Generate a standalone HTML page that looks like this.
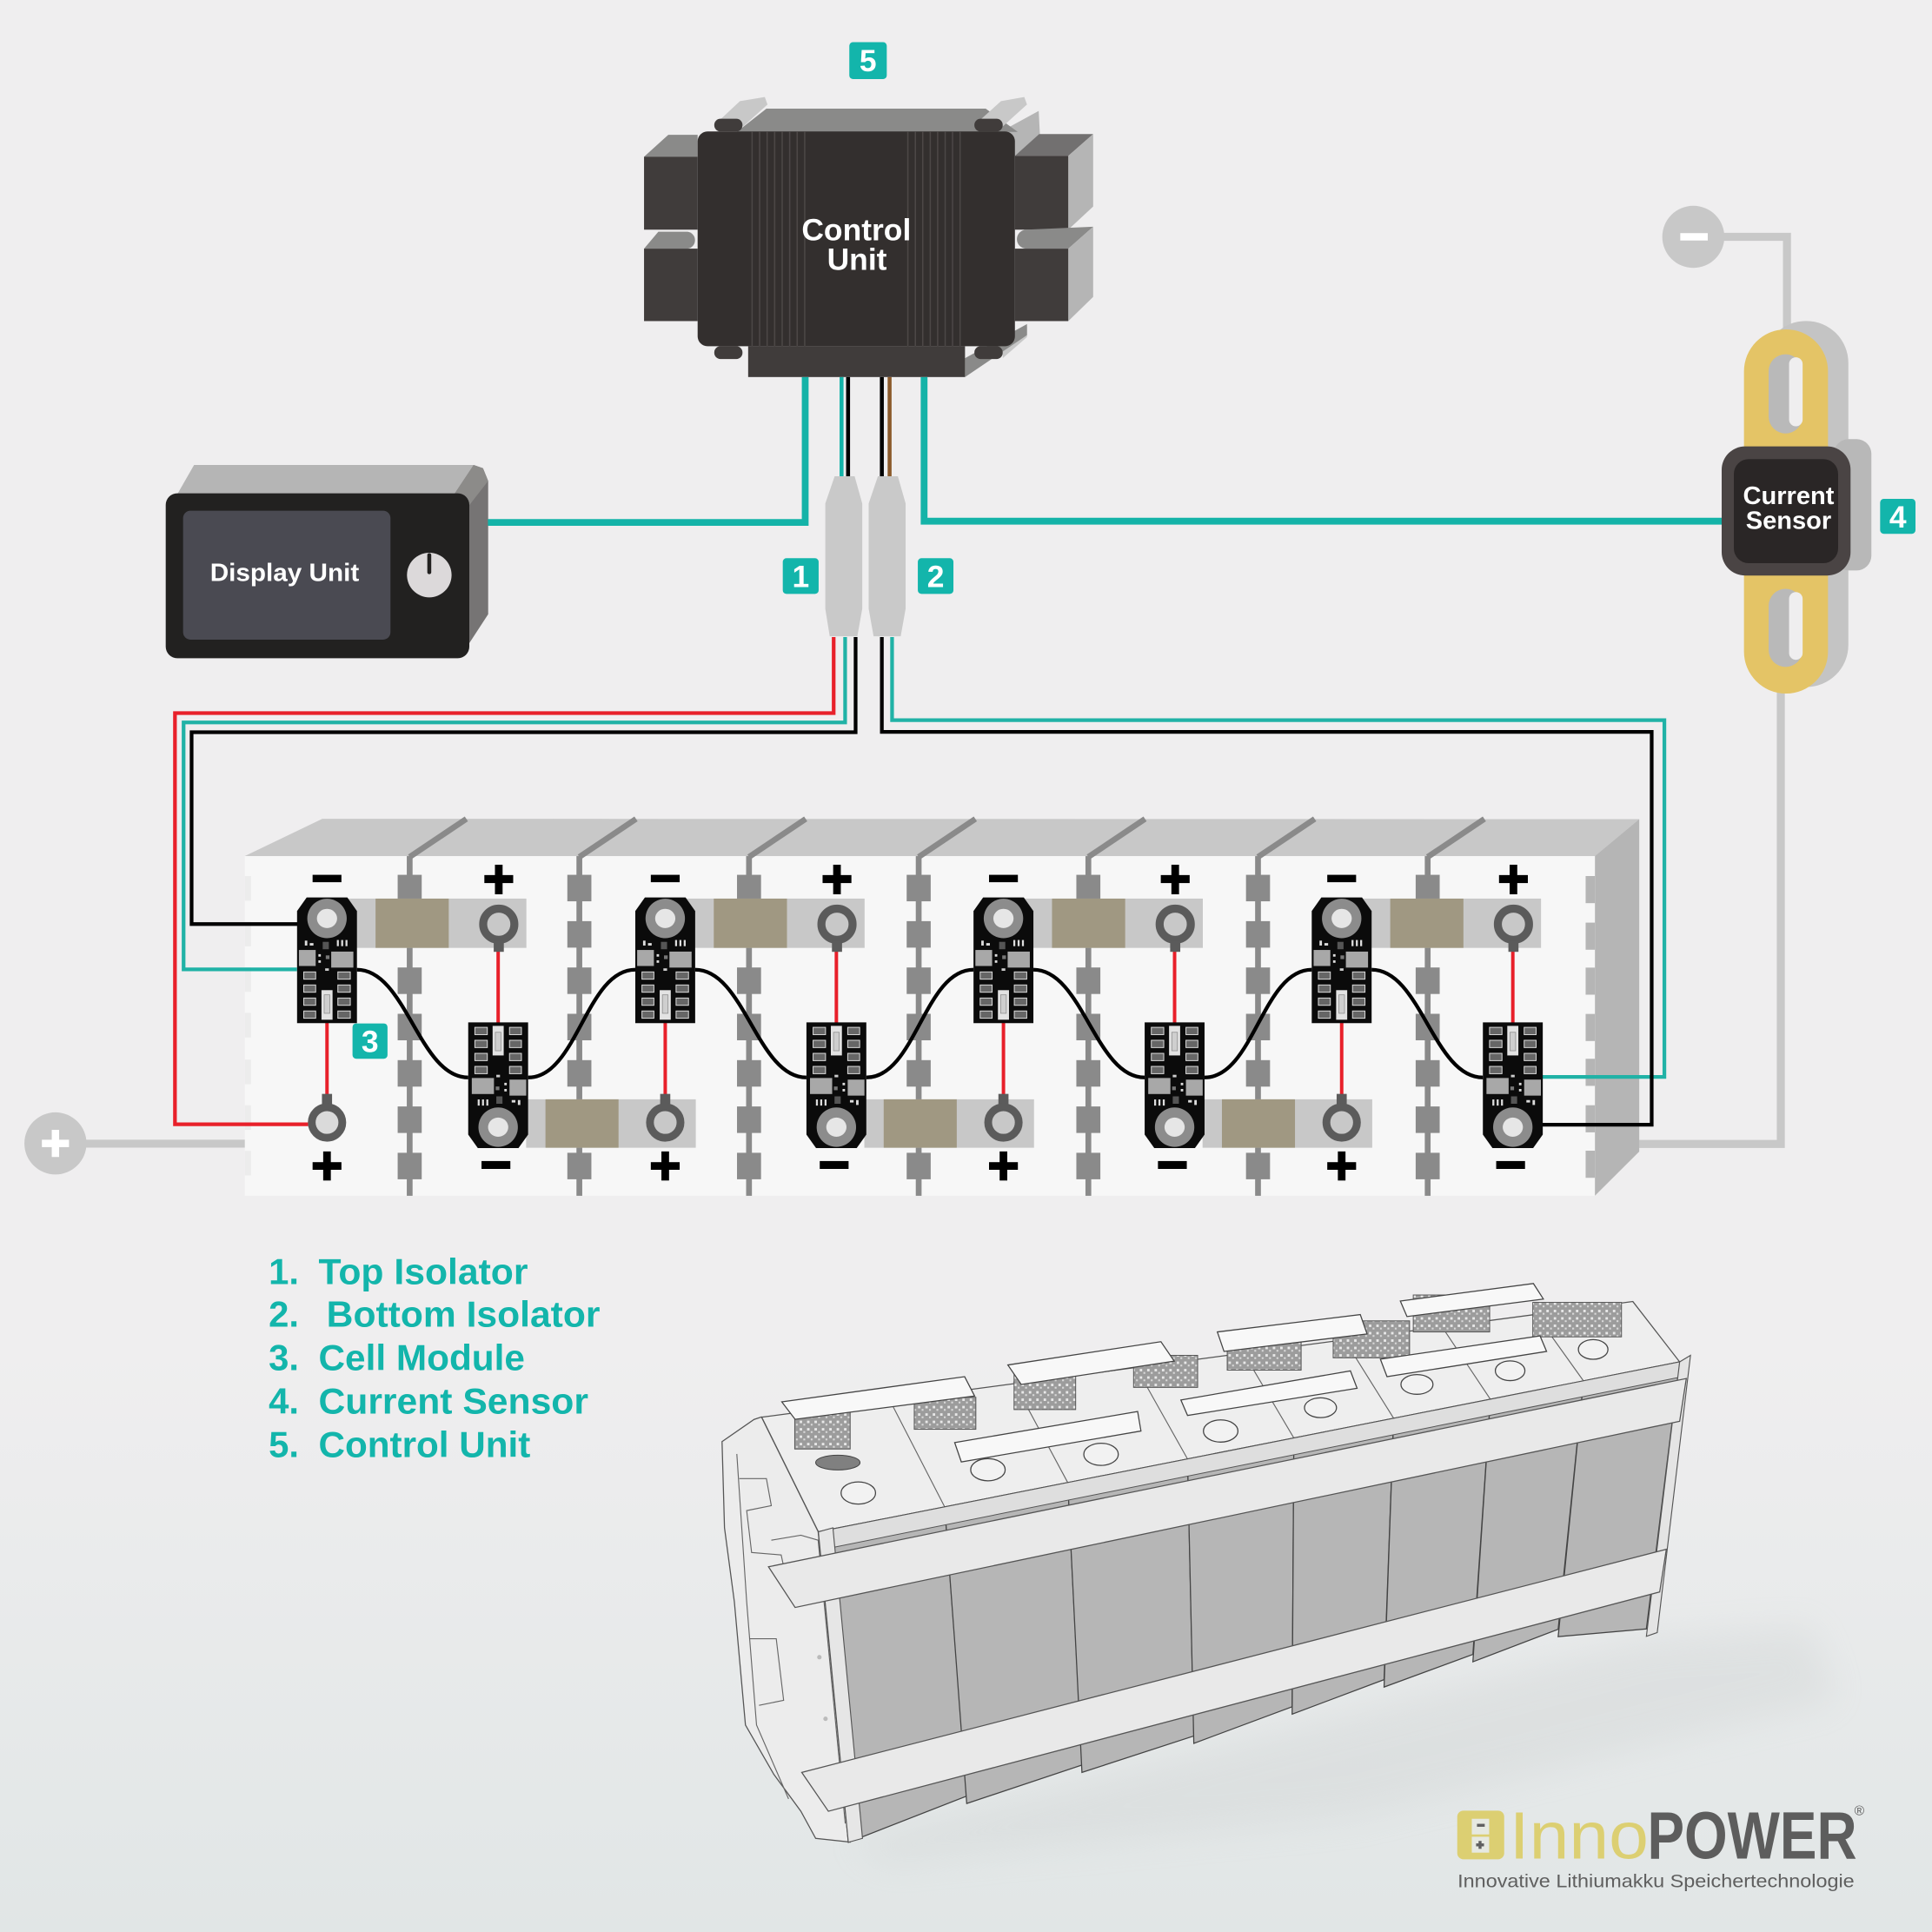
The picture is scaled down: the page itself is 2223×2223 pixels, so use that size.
<!DOCTYPE html>
<html><head><meta charset="utf-8"><style>html,body{margin:0;padding:0;background:#efeeef;}svg{display:block}</style></head>
<body>
<svg xmlns="http://www.w3.org/2000/svg" xmlns:xlink="http://www.w3.org/1999/xlink" width="2223" height="2223" viewBox="0 0 1568 1568" font-family="'Liberation Sans', Arial, sans-serif">
<defs>
<linearGradient id="bg" x1="0" y1="0" x2="0" y2="1">
<stop offset="0" stop-color="#efeeef"/><stop offset="0.7" stop-color="#efeeef"/><stop offset="1" stop-color="#e1e6e6"/>
</linearGradient>
<filter id="blur" x="-20%" y="-20%" width="140%" height="140%"><feGaussianBlur stdDeviation="14"/></filter>
<pattern id="hatch" width="6" height="6" patternUnits="userSpaceOnUse">
<rect width="6" height="6" fill="#9c9c9c"/><rect x="1" y="1" width="2" height="2" fill="#e8e8e8"/><rect x="4" y="3.5" width="1.5" height="1.5" fill="#d8d8d8"/>
</pattern>
<g id="mod">
<path d="M-16.5,0 H16.5 L24.3,11 V102 H-24.3 V11 Z" fill="#0b0b0b"/>
<circle cx="0" cy="17" r="16" fill="#8c8c8c"/>
<ellipse cx="0" cy="17" rx="8.2" ry="7.8" fill="#e6e6e6"/>
<rect x="-22.8" y="42.6" width="13.6" height="13" fill="#a8a8a8"/>
<rect x="3.4" y="43.9" width="18" height="13" fill="#a8a8a8"/>
<rect x="-3.5" y="36" width="5" height="6" fill="#555"/>
<rect x="-18" y="35" width="2" height="4" fill="#ddd"/><rect x="-14" y="37" width="3" height="2" fill="#ddd"/>
<rect x="8" y="34.5" width="1.6" height="5" fill="#ddd"/><rect x="11.5" y="34.5" width="1.6" height="5" fill="#ddd"/><rect x="15" y="34.5" width="1.6" height="5" fill="#ddd"/>
<rect x="-7" y="46" width="2" height="2" fill="#ddd"/><rect x="-7" y="51" width="2" height="2" fill="#ddd"/><rect x="-1" y="47" width="3" height="3" fill="#777"/>
<rect x="-1.5" y="57.5" width="3" height="2" fill="#ccc"/>
<g fill="#666" stroke="#dcdcdc" stroke-width="0.7">
<rect x="-18.9" y="60.4" width="9.7" height="5.9"/><rect x="8.8" y="60.4" width="10.1" height="5.9"/>
<rect x="-18.9" y="71" width="9.7" height="5.9"/><rect x="8.8" y="71" width="10.1" height="5.9"/>
<rect x="-18.9" y="81.6" width="9.7" height="5.9"/><rect x="8.8" y="81.6" width="10.1" height="5.9"/>
<rect x="-18.9" y="92.1" width="9.7" height="5.9"/><rect x="8.8" y="92.1" width="10.1" height="5.9"/>
</g>
<rect x="-4.5" y="75.2" width="9" height="24" fill="#e3e3e3"/>
<rect x="-2.3" y="79" width="4.6" height="15" fill="#cfcfcf" stroke="#888" stroke-width="0.5"/>
</g>
</defs>

<rect x="0" y="0" width="1568" height="1568" fill="url(#bg)"/>

<!-- ============ CONTROL UNIT ============ -->
<polygon points="522.7,127.2 542.4,109.4 566.2,109.4 566.2,127.2" fill="#8a8a89"/>
<rect x="522.7" y="127.2" width="43.5" height="59.2" fill="#403c3b"/>
<path d="M522.7,201.8 L534.3,188.1 H558 A6.9,6.9 0 0 1 558,201.8 Z" fill="#8a8a89"/>
<rect x="522.7" y="201.8" width="43.5" height="58.8" fill="#403c3b"/>
<polygon points="813.8,106 843,90 844,109.4 823.7,126.5" fill="#b5b5b5"/>
<polygon points="823.7,126.5 843.4,108.8 887.2,108.8 867,126.5" fill="#727070"/>
<polygon points="867,126.5 887.2,108.8 887.2,167.6 867,186.4" fill="#b5b5b5"/>
<rect x="823.7" y="126.5" width="43.3" height="59.9" fill="#403c3b"/>
<path d="M833,186.4 L887.2,184 L867,201.8 H833 A7.7,7.7 0 0 1 833,186.4 Z" fill="#8a8a89"/>
<polygon points="867,201.8 887.2,184 887.2,241 867,260.6" fill="#b5b5b5"/>
<rect x="823.7" y="201.8" width="43.3" height="58.8" fill="#403c3b"/>
<polygon points="598,107 622,88.2 800,88.2 826,107" fill="#8a8a89"/>
<polygon points="579.7,101.6 600.5,82.1 620.7,78.7 622.9,84.8 603.2,102.6" fill="#c8c8c8"/>
<polygon points="790.8,101.6 812.4,82.1 831.3,78.7 833.5,84.8 813.8,102.6" fill="#c8c8c8"/>
<polygon points="813.8,284 833.5,265 833.5,273.6 813.8,290.7" fill="#c8c8c8"/>
<polygon points="783.2,290.7 833.5,263 833.5,272 783.2,306" fill="#8a8a89"/>
<rect x="566.2" y="106.7" width="257.5" height="174.3" rx="8" fill="#332f2e"/>
<g stroke="#4c4746" stroke-width="1.1">
<line x1="610.4" y1="107" x2="610.4" y2="281"/><line x1="616.5" y1="107" x2="616.5" y2="281"/><line x1="622.6" y1="107" x2="622.6" y2="281"/><line x1="628.7" y1="107" x2="628.7" y2="281"/><line x1="634.8" y1="107" x2="634.8" y2="281"/><line x1="640.9" y1="107" x2="640.9" y2="281"/><line x1="647" y1="107" x2="647" y2="281"/><line x1="653.1" y1="107" x2="653.1" y2="281"/>
<line x1="736.8" y1="107" x2="736.8" y2="281"/><line x1="742.9" y1="107" x2="742.9" y2="281"/><line x1="748.9" y1="107" x2="748.9" y2="281"/><line x1="755" y1="107" x2="755" y2="281"/><line x1="761" y1="107" x2="761" y2="281"/><line x1="767.1" y1="107" x2="767.1" y2="281"/><line x1="773.1" y1="107" x2="773.1" y2="281"/><line x1="779.2" y1="107" x2="779.2" y2="281"/>
</g>
<rect x="579.7" y="96.4" width="22.9" height="10.3" rx="5" fill="#403c3b"/>
<rect x="790.8" y="96.4" width="23" height="10.3" rx="5" fill="#403c3b"/>
<rect x="607.2" y="281" width="176" height="25" fill="#403c3b"/>
<rect x="579.7" y="281" width="22.9" height="10.4" rx="5" fill="#403c3b"/>
<rect x="790.8" y="281" width="23" height="10.4" rx="5" fill="#403c3b"/>
<text x="695" y="195" font-size="25" font-weight="bold" fill="#fff" text-anchor="middle">Control</text>
<text x="695.5" y="219" font-size="25" font-weight="bold" fill="#fff" text-anchor="middle">Unit</text>

<rect x="689.3" y="34.2" width="30.4" height="30" rx="3" fill="#13b5ab"/>
<text x="704.5" y="58" font-size="25" font-weight="bold" fill="#fff" text-anchor="middle">5</text>

<!-- ============ DISPLAY UNIT ============ -->
<polygon points="143.4,402 157.5,377.4 384.4,377.4 369.1,400.4" fill="#b5b5b5"/>
<polygon points="369.1,400.4 384.4,377.4 392,380 396.2,390.3 396.2,498.5 380.9,522 380.9,410" fill="#767474"/>
<polygon points="369.1,400.4 384.4,377.4 392,380 396.2,390.3 380.9,410" fill="#8c8b89"/>
<rect x="134.5" y="400.4" width="246.4" height="133.8" rx="9.4" fill="#222120"/>
<rect x="148.6" y="414.5" width="168.3" height="104.6" rx="6" fill="#4a4a52"/>
<text x="170.5" y="471.4" font-size="20.5" font-weight="bold" fill="#fff" textLength="121" lengthAdjust="spacingAndGlyphs">Display Unit</text>
<circle cx="348.4" cy="466.7" r="18.1" fill="#dcd9da"/>
<rect x="346.8" y="449" width="3.2" height="17" rx="1.5" fill="#222120"/>

<!-- ============ WIRES TOP ============ -->
<path d="M653.5,306 V424 H396" fill="none" stroke="#14b3a8" stroke-width="5.5"/>
<path d="M750,306 V423 H1398" fill="none" stroke="#14b3a8" stroke-width="5.5"/>
<line x1="683" y1="306" x2="683" y2="388" stroke="#14b3a8" stroke-width="3.2"/>
<line x1="688.3" y1="306" x2="688.3" y2="388" stroke="#000" stroke-width="3.2"/>
<line x1="715.7" y1="306" x2="715.7" y2="388" stroke="#000" stroke-width="3.2"/>
<line x1="722" y1="306" x2="722" y2="388" stroke="#8b5a2b" stroke-width="3.2"/>

<polygon points="677.4,386.5 693.6,386.5 699.8,408.7 699.8,494 695.8,516.4 673.4,516.4 669.8,494 669.8,408.7" fill="#c9c9c9"/>
<polygon points="712.5,386.5 728.7,386.5 735,408.7 735,494 731,516.4 709,516.4 705,494 705,408.7" fill="#c9c9c9"/>
<rect x="635.3" y="453" width="29.1" height="29" rx="3" fill="#13b5ab"/>
<text x="649.9" y="476.5" font-size="25" font-weight="bold" fill="#fff" text-anchor="middle">1</text>
<rect x="744.9" y="453" width="28.9" height="29" rx="3" fill="#13b5ab"/>
<text x="759.4" y="476.5" font-size="25" font-weight="bold" fill="#fff" text-anchor="middle">2</text>

<!-- ============ CURRENT SENSOR ============ -->
<path d="M1399,192.2 H1450.3 V270" fill="none" stroke="#c8c8c8" stroke-width="6.5"/>
<circle cx="1374.3" cy="192.2" r="25.2" fill="#c8c8c8"/>
<rect x="1363.7" y="189.2" width="22.3" height="6" fill="#fff"/>
<path d="M1445.3,555 V928.4 H1314" fill="none" stroke="#c8c8c8" stroke-width="6.5"/>
<rect x="1431.5" y="260.5" width="68.6" height="297" rx="34" fill="#c4c4c4"/>
<rect x="1488.3" y="356.4" width="30.5" height="106.6" rx="12" fill="#b8b8b8"/>
<rect x="1415.4" y="267.3" width="68.2" height="295.6" rx="34.1" fill="#e4c466"/>
<rect x="1435.4" y="287.5" width="27.5" height="64.3" rx="13.75" fill="#b9b9b9"/>
<rect x="1452" y="290" width="11" height="56" rx="5.5" fill="#efeeef"/>
<rect x="1435.4" y="477.9" width="27.5" height="63.4" rx="13.75" fill="#b9b9b9"/>
<rect x="1452" y="480.5" width="11" height="55" rx="5.5" fill="#efeeef"/>
<rect x="1397.3" y="362.3" width="104.6" height="104.8" rx="19" fill="#4a4444"/>
<rect x="1407.2" y="372.6" width="84.6" height="84.5" rx="12" fill="#2a2626"/>
<text x="1451.6" y="409" font-size="20.5" font-weight="bold" fill="#fff" text-anchor="middle">Current</text>
<text x="1451.6" y="429.3" font-size="20.5" font-weight="bold" fill="#fff" text-anchor="middle">Sensor</text>
<rect x="1525.9" y="404.9" width="28.7" height="28.4" rx="3" fill="#13b5ab"/>
<text x="1540.3" y="428" font-size="25" font-weight="bold" fill="#fff" text-anchor="middle">4</text>

<line x1="68" y1="928.2" x2="205" y2="928.2" stroke="#c8c8c8" stroke-width="6.5"/>
<circle cx="45" cy="928" r="25.2" fill="#c8c8c8"/>
<rect x="34" y="925" width="22" height="6" fill="#fff"/>
<rect x="42" y="917" width="6" height="22" fill="#fff"/>

<!-- ============ SCHEMATIC BATTERY ============ -->
<polygon points="198.7,694.8 261.6,664.5 1330.4,664.8 1294.4,694.8" fill="#c8c8c8"/>
<polygon points="1294.4,694.8 1330.4,664.8 1330.4,934.6 1294.4,970.5" fill="#b5b5b5"/>
<rect x="198.7" y="694.8" width="1095.7" height="275.7" fill="#f7f7f7"/>
<g fill="#b5b5b5">
<rect x="1286.9" y="711" width="7.5" height="22"/><rect x="1286.9" y="748.8" width="7.5" height="22"/><rect x="1286.9" y="785.3" width="7.5" height="22"/><rect x="1286.9" y="822.9" width="7.5" height="22"/><rect x="1286.9" y="859.3" width="7.5" height="22"/><rect x="1286.9" y="897" width="7.5" height="22"/><rect x="1286.9" y="933.9" width="7.5" height="22"/>
</g>
<g fill="#ececec">
<rect x="198.7" y="711" width="5" height="20"/><rect x="198.7" y="748" width="5" height="20"/><rect x="198.7" y="785" width="5" height="20"/><rect x="198.7" y="822" width="5" height="20"/><rect x="198.7" y="860" width="5" height="20"/><rect x="198.7" y="897" width="5" height="20"/><rect x="198.7" y="934" width="5" height="20"/>
</g>
<g id="sep">
<line x1="332.5" y1="695.5" x2="378.5" y2="664.6" stroke="#8a8a8a" stroke-width="4.7"/>
<rect x="330.15" y="694.8" width="4.7" height="275.7" fill="#8a8a8a"/>
<g fill="#8a8a8a">
<rect x="322.75" y="710" width="19.5" height="21.5"/><rect x="322.75" y="747.6" width="19.5" height="21.5"/><rect x="322.75" y="785.2" width="19.5" height="21.5"/><rect x="322.75" y="822.8" width="19.5" height="21.5"/><rect x="322.75" y="860.4" width="19.5" height="21.5"/><rect x="322.75" y="898" width="19.5" height="21.5"/><rect x="322.75" y="935.6" width="19.5" height="21.5"/>
</g>
</g>
<use xlink:href="#sep" href="#sep" transform="translate(137.7,0)"/>
<use xlink:href="#sep" href="#sep" transform="translate(275.4,0)"/>
<use xlink:href="#sep" href="#sep" transform="translate(413.1,0)"/>
<use xlink:href="#sep" href="#sep" transform="translate(550.8,0)"/>
<use xlink:href="#sep" href="#sep" transform="translate(688.5,0)"/>
<use xlink:href="#sep" href="#sep" transform="translate(826.2,0)"/>

<g>
<rect x="279.6" y="729.3" width="147.6" height="40" fill="#c8c8c8"/><rect x="304.8" y="729.3" width="59.4" height="40" fill="#a09882"/>
<rect x="554.1" y="729.3" width="147.6" height="40" fill="#c8c8c8"/><rect x="579.3" y="729.3" width="59.4" height="40" fill="#a09882"/>
<rect x="828.6" y="729.3" width="147.6" height="40" fill="#c8c8c8"/><rect x="853.8" y="729.3" width="59.4" height="40" fill="#a09882"/>
<rect x="1103.1" y="729.3" width="147.6" height="40" fill="#c8c8c8"/><rect x="1128.3" y="729.3" width="59.4" height="40" fill="#a09882"/>
</g>
<g>
<rect x="427" y="892.2" width="137.7" height="39.3" fill="#c8c8c8"/><rect x="442.7" y="892.2" width="59.3" height="39.3" fill="#a09882"/>
<rect x="701.5" y="892.2" width="137.7" height="39.3" fill="#c8c8c8"/><rect x="717.2" y="892.2" width="59.3" height="39.3" fill="#a09882"/>
<rect x="976" y="892.2" width="137.7" height="39.3" fill="#c8c8c8"/><rect x="991.7" y="892.2" width="59.3" height="39.3" fill="#a09882"/>
</g>

<g stroke="#e8202a" stroke-width="2.8">
<line x1="404.3" y1="772" x2="404.3" y2="831"/><line x1="678.8" y1="772" x2="678.8" y2="831"/><line x1="953.3" y1="772" x2="953.3" y2="831"/><line x1="1227.8" y1="772" x2="1227.8" y2="831"/>
<line x1="265.4" y1="830" x2="265.4" y2="889"/><line x1="539.9" y1="830" x2="539.9" y2="889"/><line x1="814.4" y1="830" x2="814.4" y2="889"/><line x1="1088.9" y1="830" x2="1088.9" y2="889"/>
</g>
<g fill="#c8c8c8" stroke="#5b5b5b" stroke-width="6.5">
<circle cx="404.8" cy="750.1" r="12.65"/><circle cx="679.3" cy="750.1" r="12.65"/><circle cx="953.8" cy="750.1" r="12.65"/><circle cx="1228.3" cy="750.1" r="12.65"/>
</g>
<g fill="#5b5b5b">
<rect x="400.7" y="763.5" width="8.2" height="9"/><rect x="675.2" y="763.5" width="8.2" height="9"/><rect x="949.7" y="763.5" width="8.2" height="9"/><rect x="1224.2" y="763.5" width="8.2" height="9"/>
<rect x="261.3" y="887.8" width="8.2" height="9"/><rect x="535.8" y="887.8" width="8.2" height="9"/><rect x="810.3" y="887.8" width="8.2" height="9"/><rect x="1084.8" y="887.8" width="8.2" height="9"/>
</g>
<circle cx="265.4" cy="911" r="12.4" fill="#dadada" stroke="#5b5b5b" stroke-width="6.3"/>
<g fill="#c8c8c8" stroke="#5b5b5b" stroke-width="6.3">
<circle cx="539.9" cy="911" r="12.4"/><circle cx="814.4" cy="911" r="12.4"/><circle cx="1088.9" cy="911" r="12.4"/>
</g>

<path d="M676.6,517 V578.7 H142 V912.5 H250" fill="none" stroke="#e8202a" stroke-width="3"/>
<path d="M685.9,517 V586.3 H149 V786.7 H241" fill="none" stroke="#20b2a6" stroke-width="3"/>
<path d="M694.4,517 V594.3 H155.5 V750 H242" fill="none" stroke="#000" stroke-width="3"/>
<path d="M724,517 V584.5 H1350.8 V874 H1250" fill="none" stroke="#20b2a6" stroke-width="3"/>
<path d="M715.7,517 V594 H1340.5 V912.8 H1250" fill="none" stroke="#000" stroke-width="3"/>

<use xlink:href="#mod" href="#mod" transform="translate(265.4,728.4)"/>
<use xlink:href="#mod" href="#mod" transform="translate(539.9,728.4)"/>
<use xlink:href="#mod" href="#mod" transform="translate(814.4,728.4)"/>
<use xlink:href="#mod" href="#mod" transform="translate(1088.9,728.4)"/>
<use xlink:href="#mod" href="#mod" transform="translate(404.3,931.8) rotate(180)"/>
<use xlink:href="#mod" href="#mod" transform="translate(678.8,931.8) rotate(180)"/>
<use xlink:href="#mod" href="#mod" transform="translate(953.3,931.8) rotate(180)"/>
<use xlink:href="#mod" href="#mod" transform="translate(1227.8,931.8) rotate(180)"/>

<g fill="none" stroke="#000" stroke-width="3">
<path d="M289.7,787 C329.7,787 340,874.5 380,874.5"/>
<path d="M428.6,874.5 C468.6,874.5 475.6,787 515.6,787"/>
<path d="M564.2,787 C604.2,787 614.5,874.5 654.5,874.5"/>
<path d="M703.1,874.5 C743.1,874.5 750.1,787 790.1,787"/>
<path d="M838.7,787 C878.7,787 889,874.5 929,874.5"/>
<path d="M977.6,874.5 C1017.6,874.5 1024.6,787 1064.6,787"/>
<path d="M1113.2,787 C1153.2,787 1163.5,874.5 1203.5,874.5"/>
</g>

<g fill="#000">
<rect x="253.7" y="710" width="23.4" height="6"/><rect x="528.2" y="710" width="23.4" height="6"/><rect x="802.7" y="710" width="23.4" height="6"/><rect x="1077.2" y="710" width="23.4" height="6"/>
<rect x="393.1" y="710.2" width="23.4" height="6.5"/><rect x="401.7" y="701.8" width="6.2" height="24"/>
<rect x="667.6" y="710.2" width="23.4" height="6.5"/><rect x="676.2" y="701.8" width="6.2" height="24"/>
<rect x="942.1" y="710.2" width="23.4" height="6.5"/><rect x="950.7" y="701.8" width="6.2" height="24"/>
<rect x="1216.6" y="710.2" width="23.4" height="6.5"/><rect x="1225.2" y="701.8" width="6.2" height="24"/>
<rect x="253.7" y="943.2" width="23.4" height="6.2"/><rect x="262.3" y="934.5" width="6.2" height="23.6"/>
<rect x="528.2" y="943.2" width="23.4" height="6.2"/><rect x="536.8" y="934.5" width="6.2" height="23.6"/>
<rect x="802.7" y="943.2" width="23.4" height="6.2"/><rect x="811.3" y="934.5" width="6.2" height="23.6"/>
<rect x="1077.2" y="943.2" width="23.4" height="6.2"/><rect x="1085.8" y="934.5" width="6.2" height="23.6"/>
<rect x="390.8" y="942.3" width="23.4" height="6.4"/><rect x="665.3" y="942.3" width="23.4" height="6.4"/><rect x="939.8" y="942.3" width="23.4" height="6.4"/><rect x="1214.3" y="942.3" width="23.4" height="6.4"/>
</g>
<rect x="286.1" y="830.6" width="28.4" height="28.7" rx="3" fill="#13b5ab"/>
<text x="300.3" y="854" font-size="25" font-weight="bold" fill="#fff" text-anchor="middle">3</text>

<!-- ============ LEGEND ============ -->
<g font-size="29.5" font-weight="bold" fill="#13b5ab">
<text x="218" y="1042.1">1.</text><text x="258.5" y="1042.1" textLength="170" lengthAdjust="spacingAndGlyphs">Top Isolator</text>
<text x="218" y="1076.8">2.</text><text x="265" y="1076.8" textLength="222" lengthAdjust="spacingAndGlyphs">Bottom Isolator</text>
<text x="218" y="1112.1">3.</text><text x="258.5" y="1112.1" textLength="167.5" lengthAdjust="spacingAndGlyphs">Cell Module</text>
<text x="218" y="1147.4">4.</text><text x="258.5" y="1147.4" textLength="219" lengthAdjust="spacingAndGlyphs">Current Sensor</text>
<text x="218" y="1182.6">5.</text><text x="258.5" y="1182.6" textLength="172" lengthAdjust="spacingAndGlyphs">Control Unit</text>
</g>

<!-- ============ 3D BATTERY ============ -->
<polygon points="690,1495 1336,1330 1470,1320 1490,1380 1100,1475 720,1512" fill="#cdd1d1" opacity="0.35" filter="url(#blur)"/>
<polygon points="586,1170 612,1152 618,1150 664,1243 690,1495 662,1492 650,1470 628,1440 605,1400 596,1300 588,1240" fill="#ececec" stroke="#555" stroke-width="0.9"/>
<polyline points="598,1180 606,1300 614,1400 640,1460" fill="none" stroke="#666" stroke-width="0.8"/>
<polyline points="600,1200 622,1200 626,1222 606,1226 610,1260 634,1262 640,1290" fill="none" stroke="#666" stroke-width="0.8"/>
<polyline points="608,1330 630,1330 636,1380 616,1384" fill="none" stroke="#666" stroke-width="0.8"/>
<polyline points="626,1250 650,1246 664,1250 686,1480" fill="none" stroke="#666" stroke-width="0.8"/>
<polygon points="618.2,1150.2 1325.2,1056.3 1363.2,1105.3 664.2,1243.2" fill="#eeeeee" stroke="#555" stroke-width="0.9"/>
<g stroke="#666" stroke-width="0.8">
<line x1="766.7" y1="1223" x2="721.7" y2="1135.5"/><line x1="866.6" y1="1203.3" x2="822.6" y2="1121.3"/><line x1="963.8" y1="1184.1" x2="920.8" y2="1107.6"/><line x1="1050.1" y1="1167.1" x2="1008.1" y2="1096.1"/><line x1="1131.1" y1="1151.1" x2="1090.1" y2="1085.6"/><line x1="1209.6" y1="1135.7" x2="1169.6" y2="1075.7"/><line x1="1285.2" y1="1120.8" x2="1246.2" y2="1066.3"/>
</g>
<g fill="#b6b6b6" stroke="#444" stroke-width="0.9">
<polygon points="664.2,1243.2 766.7,1223 784.6,1457.7 688.5,1495.2"/>
<polygon points="766.7,1223 866.6,1203.3 878.1,1432.5 784.6,1463.7"/>
<polygon points="866.6,1203.3 963.8,1184.1 968.9,1408.9 878.1,1438.5"/>
<polygon points="963.8,1184.1 1050.1,1167.1 1048.7,1385.2 968.9,1414.9"/>
<polygon points="1050.1,1167.1 1131.1,1151.1 1123.3,1363.2 1048.7,1391.2"/>
<polygon points="1131.1,1151.1 1209.6,1135.7 1195.4,1342.7 1123.3,1369.2"/>
<polygon points="1209.6,1135.7 1285.2,1120.8 1264.6,1322.3 1195.4,1348.7"/>
<polygon points="1285.2,1120.8 1363.2,1105.3 1336.2,1322 1264.6,1328.3"/>
</g>
<polygon points="664.2,1243.2 1363.2,1105.3 1362,1118 665.5,1258" fill="#dedede" stroke="#555" stroke-width="0.7"/>
<polygon points="1363.2,1105.3 1372,1100 1345,1325 1336.2,1328" fill="#e4e4e4" stroke="#555" stroke-width="0.8"/>
<polygon points="664.2,1243.2 676,1240 700,1492 688.5,1495.2" fill="#e6e6e6" stroke="#555" stroke-width="0.8"/>
<polygon points="623.7,1271.6 1368.6,1118.8 1363.2,1153.5 645.3,1304.6" fill="#e9e9e9" stroke="#555" stroke-width="0.9"/>
<polygon points="650.7,1438.5 1352.4,1257.4 1347,1292 672.3,1470" fill="#e9e9e9" stroke="#555" stroke-width="0.9"/>
<g fill="#bbb">
<circle cx="665" cy="1345" r="1.8"/><circle cx="670" cy="1395" r="1.8"/>
</g>
<g fill="url(#hatch)" stroke="#555" stroke-width="0.7">
<rect x="645" y="1142" width="45" height="34"/><rect x="742" y="1134" width="50" height="26"/><rect x="823" y="1108" width="50" height="36"/><rect x="920" y="1100" width="52" height="26"/><rect x="996" y="1082" width="60" height="30"/><rect x="1082" y="1072" width="62" height="30"/><rect x="1147" y="1051" width="62" height="30"/><rect x="1244" y="1057" width="72" height="28"/>
</g>
<g fill="#f8f8f8" stroke="#444" stroke-width="0.9">
<polygon points="634.5,1137.7 782.9,1117.3 791,1133 645.3,1151.9"/>
<polygon points="774.8,1170.8 923.3,1145.6 926,1161.4 780.2,1186.5"/>
<polygon points="818,1107.8 942.2,1088.9 953,1104.7 828.8,1123.6"/>
<polygon points="958.4,1136.2 1096,1112.6 1101.4,1126.7 963.8,1148.8"/>
<polygon points="988,1081 1104,1066.9 1109.5,1082.6 993.4,1096.8"/>
<polygon points="1120.3,1103.1 1249.9,1084.2 1255.2,1096.8 1125.7,1117.3"/>
<polygon points="1136.5,1055.9 1244.5,1041.7 1252.6,1054.3 1141.9,1068.5"/>
</g>
<g fill="#f2f2f2" stroke="#444" stroke-width="0.9">
<ellipse cx="696.6" cy="1211.7" rx="14" ry="9"/><ellipse cx="801.8" cy="1192.8" rx="14" ry="9"/><ellipse cx="893.6" cy="1180.3" rx="14" ry="9"/><ellipse cx="990.7" cy="1161.4" rx="14" ry="9"/><ellipse cx="1071.7" cy="1142.5" rx="13" ry="8"/><ellipse cx="1150" cy="1123.6" rx="13" ry="8"/><ellipse cx="1225.6" cy="1112.5" rx="12" ry="8"/><ellipse cx="1293" cy="1095.2" rx="12" ry="8"/>
</g>
<ellipse cx="680" cy="1187" rx="18" ry="6" fill="#808080" stroke="#444" stroke-width="0.7"/>

<!-- ============ LOGO ============ -->
<rect x="1182.7" y="1469.5" width="38.1" height="39.5" rx="5" fill="#dccf72"/>
<rect x="1194.5" y="1476.1" width="14.1" height="12.7" fill="#e6e9e1"/>
<rect x="1194.5" y="1490.7" width="14.1" height="12.9" fill="#e6e9e1"/>
<rect x="1198.7" y="1480.2" width="6.3" height="2.4" fill="#5f5f5f"/>
<rect x="1198" y="1496.1" width="6.4" height="2.4" fill="#5f5f5f"/>
<rect x="1200" y="1494.1" width="2.4" height="6.4" fill="#5f5f5f"/>
<text x="1225" y="1508.3" font-size="54" fill="#dccf72" textLength="113" lengthAdjust="spacingAndGlyphs">Inno</text>
<text x="1337" y="1508.3" font-size="54" font-weight="bold" fill="#5d5d5d" textLength="170" lengthAdjust="spacingAndGlyphs">POWER</text>
<text x="1505" y="1473" font-size="11" fill="#5d5d5d">®</text>
<text x="1183" y="1531.8" font-size="15.2" fill="#5f5f5f" textLength="322" lengthAdjust="spacingAndGlyphs">Innovative Lithiumakku Speichertechnologie</text>
</svg>
</body></html>
